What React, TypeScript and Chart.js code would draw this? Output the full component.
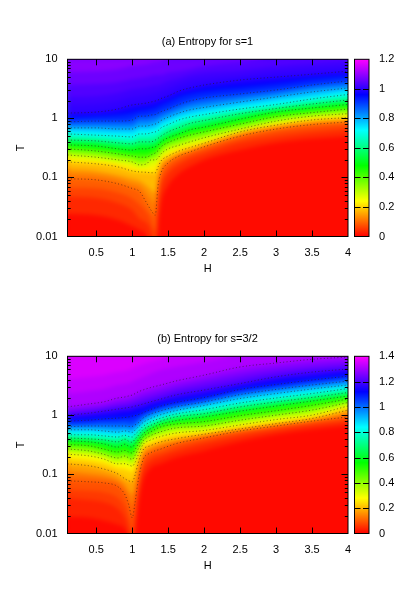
import React, { useEffect, useRef } from "react";
import { Chart, registerables } from "chart.js";

Chart.register(...registerables);

const FONT = "'Liberation Sans', Arial, sans-serif";

// ---------- panel (a): s=1, temperature of each entropy contour at each field ----------
const fieldsA = [0.1, 0.5, 0.8, 1, 1.1, 1.2, 1.26, 1.32, 1.36, 1.4, 1.5, 1.65, 1.8, 2, 2.5, 3, 3.5, 4];
const levelsA = [0.025, 0.05, 0.075, 0.1, 0.125, 0.15, 0.2, 0.25, 0.3, 0.35, 0.4, 0.45, 0.5, 0.55, 0.6, 0.65, 0.7, 0.75, 0.8, 0.85, 0.9, 0.95, 0.975, 1, 1.0125, 1.025, 1.05, 1.075];
const tempsA = [
  [.024, .023, .019, .015, .013, .0105, .0059, .0012, .0129, .035, .072, .115, .151, .198, .29, .385, .45, .5],
  [.047, .045, .037, .028, .02, .017, .0129, .0059, .034, .065, .115, .163, .206, .25, .385, .485, .57, .64],
  [.067, .065, .055, .044, .035, .026, .02, .0125, .053, .091, .145, .198, .24, .29, .45, .59, .69, .77],
  [.095, .091, .078, .065, .058, .037, .028, .023, .075, .12, .176, .23, .27, .33, .5, .66, .785, .87],
  [.115, .11, .095, .078, .072, .053, .044, .037, .091, .14, .19, .245, .28, .34, .53, .7, .83, .9],
  [.14, .129, .11, .095, .088, .072, .062, .055, .106, .163, .206, .255, .29, .356, .56, .725, .87, .94],
  [.183, .17, .151, .129, .124, .122, .12, .12, .151, .19, .23, .28, .32, .38, .59, .77, .94, 1.03],
  [.214, .198, .176, .157, .145, .145, .157, .163, .18, .22, .265, .32, .356, .415, .62, .83, 1.01, 1.12],
  [.24, .22, .198, .183, .163, .17, .198, .198, .214, .25, .305, .35, .4, .47, .66, .9, 1.09, 1.2],
  [.27, .25, .22, .206, .19, .198, .217, .23, .25, .285, .35, .4, .46, .52, .725, .97, 1.18, 1.33],
  [.305, .28, .25, .23, .22, .22, .24, .26, .285, .33, .39, .46, .52, .59, .8, 1.07, 1.25, 1.44],
  [.33, .305, .28, .26, .26, .26, .275, .29, .325, .36, .43, .5, .58, .65, .88, 1.18, 1.39, 1.56],
  [.356, .34, .305, .29, .305, .305, .32, .33, .356, .4, .47, .545, .64, .71, .97, 1.28, 1.5, 1.72],
  [.4, .385, .34, .33, .356, .356, .356, .38, .41, .45, .52, .61, .71, .8, 1.09, 1.39, 1.62, 1.89],
  [.43, .415, .385, .37, .4, .4, .4, .43, .46, .5, .59, .7, .82, .92, 1.2, 1.47, 1.75, 2.05],
  [.485, .47, .43, .415, .47, .47, .48, .5, .53, .59, .69, .8, .92, 1.03, 1.33, 1.59, 1.97, 2.3],
  [.545, .52, .5, .485, .545, .545, .57, .59, .62, .69, .785, .94, 1.05, 1.16, 1.44, 1.72, 2.13, 2.54],
  [.61, .59, .57, .57, .64, .64, .66, .69, .725, .8, .9, 1.07, 1.2, 1.33, 1.65, 2.01, 2.39, 2.9],
  [.69, .69, .66, .66, .74, .74, .77, .8, .85, .92, 1.05, 1.23, 1.39, 1.53, 1.89, 2.3, 2.8, 3.27],
  [.77, .77, .77, .77, .9, .9, .94, .97, 1.01, 1.09, 1.23, 1.44, 1.65, 1.82, 2.21, 2.64, 3.27, 3.67],
  [.87, .9, .9, .94, 1.09, 1.09, 1.14, 1.16, 1.23, 1.3, 1.44, 1.72, 1.97, 2.21, 2.59, 3.02, 3.67, 4.3],
  [1.01, 1.09, 1.14, 1.23, 1.33, 1.39, 1.44, 1.5, 1.59, 1.69, 1.89, 2.3, 2.59, 2.85, 3.27, 3.8, 4.6, 5.2],
  [1.11, 1.18, 1.28, 1.44, 1.53, 1.59, 1.65, 1.72, 1.82, 1.93, 2.13, 2.59, 2.9, 3.27, 3.8, 4.38, 5.1, 5.7],
  [1.23, 1.28, 1.44, 1.69, 1.75, 1.82, 1.89, 1.97, 2.05, 2.17, 2.39, 2.9, 3.27, 3.67, 4.46, 5.0, 5.6, 6.3],
  [1.69, 1.75, 1.97, 2.3, 2.39, 2.49, 2.59, 2.69, 2.75, 2.9, 3.2, 3.8, 4.3, 4.6, 5.2, 6.2, 7, 7.7],
  [2.3, 2.39, 2.69, 3.14, 3.27, 3.4, 3.53, 3.67, 3.67, 3.8, 4.3, 4.8, 5.4, 5.9, 6.5, 7.7, 8.6, 9.3],
  [3.67, 3.8, 4.1, 4.6, 4.8, 5.0, 5.2, 5.4, 5.4, 5.4, 5.9, 6.3, 6.8, 7.7, 8.9, 10.1, 11.4, 12.8],
  [6.1, 6.3, 6.8, 7.7, 8.0, 8.3, 8.6, 8.9, 8.9, 9.3, 9.7, 10.5, 11.4, 12.8, 15.5, 18, 21, 24],
];

// ---------- panel (b): s=3/2 ----------
const fieldsB = [0.1, 0.4, 0.6, 0.8, 0.9, 0.95, 1, 1.04, 1.08, 1.15, 1.25, 1.4, 1.6, 2, 2.5, 3, 3.5, 4];
const levelsB = [0.025, 0.05, 0.075, 0.1, 0.125, 0.15, 0.2, 0.25, 0.3, 0.35, 0.4, 0.45, 0.5, 0.55, 0.6, 0.65, 0.7, 0.75, 0.8, 0.85, 0.9, 0.95, 1, 1.05, 1.1, 1.15, 1.2, 1.225, 1.25, 1.275, 1.3, 1.325, 1.35, 1.37];
const tempsB = [
  [.019, .0185, .0165, .014, .0118, .0078, .0015, .0086, .026, .075, .124, .151, .19, .25, .356, .47, .57, .66],
  [.039, .037, .034, .026, .0178, .012, .0062, .014, .042, .11, .163, .198, .24, .32, .43, .545, .66, .77],
  [.055, .053, .05, .04, .028, .019, .0105, .022, .058, .14, .198, .23, .28, .37, .485, .6, .73, .85],
  [.078, .075, .072, .062, .045, .031, .0185, .034, .075, .176, .23, .27, .33, .415, .545, .66, .8, .94],
  [.095, .09, .084, .073, .055, .042, .031, .047, .091, .198, .25, .29, .34, .44, .555, .675, .81, 1.01],
  [.115, .106, .098, .081, .065, .053, .047, .062, .11, .214, .27, .32, .363, .46, .57, .69, .82, 1.09],
  [.151, .14, .124, .102, .084, .078, .075, .098, .151, .26, .305, .356, .4, .48, .59, .725, .885, 1.23],
  [.19, .176, .157, .129, .125, .118, .112, .14, .19, .29, .34, .4, .46, .51, .64, .77, .94, 1.33],
  [.22, .206, .183, .151, .152, .145, .138, .16, .21, .32, .38, .44, .5, .555, .69, .85, 1.01, 1.44],
  [.25, .23, .206, .17, .18, .168, .16, .187, .24, .34, .415, .485, .555, .6, .77, .94, 1.11, 1.56],
  [.27, .25, .22, .19, .205, .19, .18, .21, .265, .37, .45, .53, .61, .66, .83, 1.01, 1.23, 1.65],
  [.29, .28, .25, .214, .23, .21, .205, .24, .295, .4, .485, .59, .675, .71, .9, 1.09, 1.36, 1.75],
  [.32, .305, .27, .24, .255, .24, .23, .265, .32, .43, .52, .64, .71, .785, .99, 1.2, 1.48, 1.89],
  [.34, .33, .305, .27, .29, .265, .255, .3, .35, .47, .57, .69, .77, .9, 1.14, 1.39, 1.69, 2.05],
  [.37, .356, .33, .29, .325, .3, .29, .335, .375, .485, .59, .71, .81, .94, 1.18, 1.44, 1.75, 2.13],
  [.4, .385, .356, .33, .365, .335, .325, .38, .42, .52, .64, .77, .87, 1.01, 1.28, 1.56, 1.89, 2.3],
  [.415, .4, .385, .356, .395, .365, .35, .4, .45, .57, .67, .8, .94, 1.07, 1.39, 1.69, 2.01, 2.44],
  [.45, .43, .415, .4, .435, .4, .39, .44, .49, .61, .71, .87, 1.01, 1.18, 1.5, 1.82, 2.21, 2.69],
  [.47, .47, .45, .43, .46, .44, .43, .48, .53, .65, .77, .9, 1.05, 1.25, 1.62, 1.97, 2.34, 2.85],
  [.52, .52, .5, .485, .5, .48, .465, .52, .58, .71, .83, .97, 1.14, 1.39, 1.75, 2.13, 2.59, 3.02],
  [.57, .57, .545, .52, .545, .53, .515, .565, .63, .755, .88, 1.03, 1.2, 1.47, 1.93, 2.34, 2.8, 3.27],
  [.61, .61, .61, .59, .61, .59, .58, .63, .68, .83, .97, 1.14, 1.28, 1.56, 2.13, 2.59, 3.02, 3.53],
  [.64, .66, .66, .66, .66, .65, .65, .69, .74, .9, 1.05, 1.2, 1.39, 1.69, 2.25, 2.75, 3.27, 3.8],
  [.71, .74, .77, .77, .8, .77, .77, .83, .87, 1.01, 1.14, 1.33, 1.5, 1.82, 2.49, 3.02, 3.67, 4.3],
  [.8, .83, .87, .9, .92, .94, .97, .99, 1.03, 1.11, 1.25, 1.44, 1.65, 2.01, 2.75, 3.33, 3.97, 4.6],
  [.9, .97, 1.01, 1.09, 1.14, 1.14, 1.18, 1.23, 1.28, 1.33, 1.5, 1.69, 1.89, 2.3, 3.14, 3.97, 4.6, 5.4],
  [1.01, 1.09, 1.18, 1.28, 1.33, 1.36, 1.39, 1.44, 1.47, 1.56, 1.69, 1.89, 2.21, 2.69, 3.46, 4.5, 5.4, 6.1],
  [1.09, 1.18, 1.28, 1.42, 1.47, 1.5, 1.56, 1.62, 1.69, 1.78, 1.93, 2.17, 2.59, 3.14, 4.1, 5.2, 6.1, 6.8],
  [1.18, 1.28, 1.39, 1.56, 1.62, 1.69, 1.75, 1.82, 1.89, 2.05, 2.21, 2.49, 2.9, 3.67, 4.8, 5.9, 6.8, 7.7],
  [1.28, 1.42, 1.53, 1.75, 1.82, 1.89, 1.97, 2.06, 2.17, 2.34, 2.54, 2.85, 3.34, 4.2, 5.6, 6.9, 8, 8.6],
  [1.39, 1.56, 1.69, 1.97, 2.05, 2.13, 2.21, 2.34, 2.49, 2.69, 2.94, 3.27, 3.8, 4.8, 6.6, 7.7, 8.9, 9.7],
  [2.3, 2.59, 2.8, 3.27, 3.4, 3.53, 3.67, 3.97, 4.1, 4.46, 5.0, 5.9, 6.6, 8.0, 10.5, 12.3, 14.4, 16.2],
  [4.1, 4.46, 4.8, 5.4, 5.6, 5.9, 6.1, 6.6, 6.8, 7.4, 8.0, 8.9, 10.1, 12.3, 16.2, 18.9, 22, 25],
  [10.5, 11.4, 12.3, 13.8, 14.4, 15, 15.5, 16.2, 16.8, 18, 19.6, 23, 25.8, 31, 39, 46, 54, 61],
];

// ---------- axes ----------
const hTicks = [0.5, 1, 1.5, 2, 2.5, 3, 3.5, 4];
const tTicks = [0.01, 0.1, 1, 10];
const tMinorTicks = [.02, .03, .04, .05, .06, .07, .08, .09, .2, .3, .4, .5, .6, .7, .8, .9, 2, 3, 4, 5, 6, 7, 8, 9];
const barTicksA = [0, 0.2, 0.4, 0.6, 0.8, 1, 1.2];
const barTicksB = [0, 0.2, 0.4, 0.6, 0.8, 1, 1.2, 1.4];
const contourStepLevels = [0.1, 0.2, 0.3, 0.4, 0.5, 0.6, 0.7, 0.8, 0.9, 1, 1.1, 1.2, 1.3];
const paletteStops = [[255, 0, 0], [255, 255, 0], [0, 255, 0], [0, 255, 255], [0, 0, 255], [255, 0, 255]];

function paletteColor(fraction: number): string {
  const f = Math.min(0.99999, Math.max(0, fraction)) * (paletteStops.length - 1);
  const i = Math.floor(f);
  const t = f - i;
  const c = paletteStops[i].map((v, k) => Math.round(v + (paletteStops[i + 1][k] - v) * t));
  return `rgb(${c[0]},${c[1]},${c[2]})`;
}

function innerTicks(ctx: CanvasRenderingContext2D, area: any, xs: number[], ys: number[], xLen: number, yLen: number) {
  ctx.beginPath();
  for (const x of xs) {
    const p = Math.round(x) + 0.5;
    ctx.moveTo(p, area.top); ctx.lineTo(p, area.top + xLen);
    ctx.moveTo(p, area.bottom); ctx.lineTo(p, area.bottom - xLen);
  }
  for (const y of ys) {
    const p = Math.round(y) + 0.5;
    ctx.moveTo(area.left, p); ctx.lineTo(area.left + yLen, p);
    ctx.moveTo(area.right, p); ctx.lineTo(area.right - yLen, p);
  }
  ctx.stroke();
}

function frame(ctx: CanvasRenderingContext2D, a: any) {
  ctx.strokeRect(a.left, a.top, a.right - a.left, a.bottom - a.top);
}

function makeHeatChart(canvas: HTMLCanvasElement, title: string, fields: number[], levels: number[], temps: number[][], maxS: number, topS: number) {
  const points = (i: number) => fields.map((h, j) => ({ x: h, y: temps[i][j] }));
  // The filled bands are painted lowest level first; the dotted contours come after them.
  const fills = levels.map((level, i) => {
    const next = i + 1 < levels.length ? levels[i + 1] : 2 * topS - level;
    return {
      label: `band ${level}`,
      data: points(i),
      showLine: true,
      fill: "end",
      backgroundColor: paletteColor((level + next) / 2 / maxS),
      borderColor: "rgba(0,0,0,0)",
      borderWidth: 0,
      cubicInterpolationMode: "monotone",
      pointRadius: 0,
      pointHoverRadius: 0,
    };
  }).reverse();
  const lines = levels.map((level, i) => ({ level, i })).filter((d) => contourStepLevels.includes(d.level)).map((d) => ({
    label: `S=${d.level}`,
    data: points(d.i),
    showLine: true,
    fill: false,
    borderColor: "rgba(45,25,25,0.62)",
    borderWidth: 1,
    borderDash: [1, 2.4],
    cubicInterpolationMode: "monotone",
    pointRadius: 0,
    pointHoverRadius: 0,
  }));

  const plugin = {
    id: "gnuplotFrame",
    beforeDatasetsDraw(chart: any) {
      const { ctx, chartArea: a } = chart;
      ctx.save();
      ctx.fillStyle = paletteColor(0.01 / maxS);
      ctx.fillRect(a.left, a.top, a.right - a.left, a.bottom - a.top);
      ctx.restore();
    },
    // Once the last band is painted, soften the band edges into a continuous shading.
    afterDatasetDraw(chart: any, args: any) {
      if (args.index !== lines.length) return;
      const { ctx, chartArea: a } = chart;
      ctx.save();
      ctx.beginPath();
      ctx.rect(a.left, a.top, a.right - a.left, a.bottom - a.top);
      ctx.clip();
      ctx.filter = "blur(2px)";
      ctx.drawImage(ctx.canvas, 0, 0);
      ctx.restore();
    },
    afterDatasetsDraw(chart: any) {
      const { ctx, chartArea: a, scales } = chart;
      ctx.save();
      ctx.strokeStyle = "#000";
      ctx.lineWidth = 1;
      const xs = hTicks.filter((h) => h < 4).map((h) => scales.x.getPixelForValue(h));
      innerTicks(ctx, a, xs, tTicks.slice(1, -1).map((t) => scales.y.getPixelForValue(t)), 6, 6.5);
      innerTicks(ctx, a, [], tMinorTicks.map((t) => scales.y.getPixelForValue(t)), 0, 3.2);
      frame(ctx, a);
      ctx.restore();
    },
  };

  return new Chart(canvas, {
    type: "scatter",
    data: { datasets: [...lines, ...fills] } as any,
    plugins: [plugin],
    options: {
      animation: false,
      responsive: false,
      events: [],
      layout: { padding: { left: 0, right: 0, top: 0, bottom: 23.5 } },
      plugins: {
        legend: { display: false },
        tooltip: { enabled: false },
        title: {
          display: true,
          text: title,
          color: "#000",
          font: { family: FONT, size: 11, weight: "normal", lineHeight: 1.2 },
          padding: { top: 35.4, bottom: 10.7 },
        },
      },
      scales: {
        x: {
          type: "linear",
          min: 0.1,
          max: 4,
          grid: { display: false, drawTicks: false },
          border: { display: false },
          afterBuildTicks: (s: any) => { s.ticks = hTicks.map((value) => ({ value })); },
          afterFit: (s: any) => { s.height = 40; },
          ticks: {
            color: "#000", autoSkip: false, maxRotation: 0, padding: 10,
            font: { family: FONT, size: 11 },
            callback: (v: any) => String(v),
          },
          title: { display: true, text: "H", color: "#000", font: { family: FONT, size: 11 }, padding: { top: 0, bottom: 1 } },
        },
        y: {
          type: "logarithmic",
          min: 0.01,
          max: 10,
          grid: { display: false, drawTicks: false },
          border: { display: false },
          afterBuildTicks: (s: any) => { s.ticks = tTicks.map((value) => ({ value })); },
          afterFit: (s: any) => { s.width = 67.5; },
          ticks: {
            color: "#000", autoSkip: false, padding: 10,
            font: { family: FONT, size: 11 },
            callback: (v: any) => String(v),
          },
          title: { display: true, text: "T", color: "#000", font: { family: FONT, size: 11 }, padding: { top: 14, bottom: 0 } },
        },
        // Empty right-hand axis: reserves the room of the colour bar, so the title stays centred on the page.
        colorBarGap: {
          type: "linear",
          position: "right",
          min: 0,
          max: 1,
          grid: { display: false, drawTicks: false },
          border: { display: false },
          ticks: { display: false },
          afterFit: (s: any) => { s.width = 67; },
        },
      },
    } as any,
  });
}

function makeBarChart(canvas: HTMLCanvasElement, maxS: number, ticks: number[]) {
  const plugin = {
    id: "gnuplotBarFrame",
    afterDatasetsDraw(chart: any) {
      const { ctx, chartArea: a, scales } = chart;
      ctx.save();
      ctx.strokeStyle = "#000";
      ctx.lineWidth = 1;
      innerTicks(ctx, a, [], ticks.slice(1, -1).map((t) => scales.y.getPixelForValue(t)), 0, 6);
      frame(ctx, a);
      ctx.restore();
    },
  };
  return new Chart(canvas, {
    type: "bar",
    data: {
      labels: ["S"],
      datasets: [{
        data: [[0, maxS]],
        barPercentage: 1,
        categoryPercentage: 1,
        borderWidth: 0,
        backgroundColor: (ctx: any) => {
          const a = ctx.chart.chartArea;
          if (!a) return "#f00";
          const g = ctx.chart.ctx.createLinearGradient(0, a.bottom, 0, a.top);
          paletteStops.forEach((_, i) => {
            const f = i / (paletteStops.length - 1);
            g.addColorStop(f, paletteColor(f));
          });
          return g;
        },
      }],
    } as any,
    plugins: [plugin],
    options: {
      animation: false,
      responsive: false,
      events: [],
      layout: { padding: { left: 14.5, right: 0, top: 59.3, bottom: 63.5 } },
      plugins: { legend: { display: false }, tooltip: { enabled: false }, title: { display: false } },
      scales: {
        x: { display: false },
        y: {
          type: "linear",
          position: "right",
          min: 0,
          max: maxS,
          grid: { display: false, drawTicks: false },
          border: { display: false },
          afterBuildTicks: (s: any) => { s.ticks = ticks.map((value) => ({ value })); },
          afterFit: (s: any) => { s.width = 46; },
          ticks: {
            color: "#000", autoSkip: false, padding: 10,
            font: { family: FONT, size: 11 },
            callback: (v: any) => String(Number(Number(v).toFixed(1))),
          },
        },
      },
    } as any,
  });
}

export default function App() {
  const a = useRef<HTMLCanvasElement>(null);
  const b = useRef<HTMLCanvasElement>(null);
  const ca = useRef<HTMLCanvasElement>(null);
  const cb = useRef<HTMLCanvasElement>(null);
  useEffect(() => {
    const charts = [
      makeHeatChart(a.current!, "(a) Entropy for s=1", fieldsA, levelsA, tempsA, 1.2, 1.09),
      makeHeatChart(b.current!, "(b) Entropy for s=3/2", fieldsB, levelsB, tempsB, 1.4, 1.38),
      makeBarChart(ca.current!, 1.2, barTicksA),
      makeBarChart(cb.current!, 1.4, barTicksB),
    ];
    return () => charts.forEach((c) => c.destroy());
  }, []);
  const abs = (left: number, top: number): React.CSSProperties => ({ position: "absolute", left, top, display: "block" });
  return (
    <div style={{ position: "absolute", left: 0, top: 0, width: 415, height: 593, overflow: "hidden", background: "#fff" }}>
      <canvas ref={a} width={415} height={300} style={abs(0, 0)} />
      <canvas ref={b} width={415} height={300} style={abs(0, 297)} />
      <canvas ref={ca} width={75} height={300} style={abs(340, 0)} />
      <canvas ref={cb} width={75} height={300} style={abs(340, 297)} />
    </div>
  );
}
